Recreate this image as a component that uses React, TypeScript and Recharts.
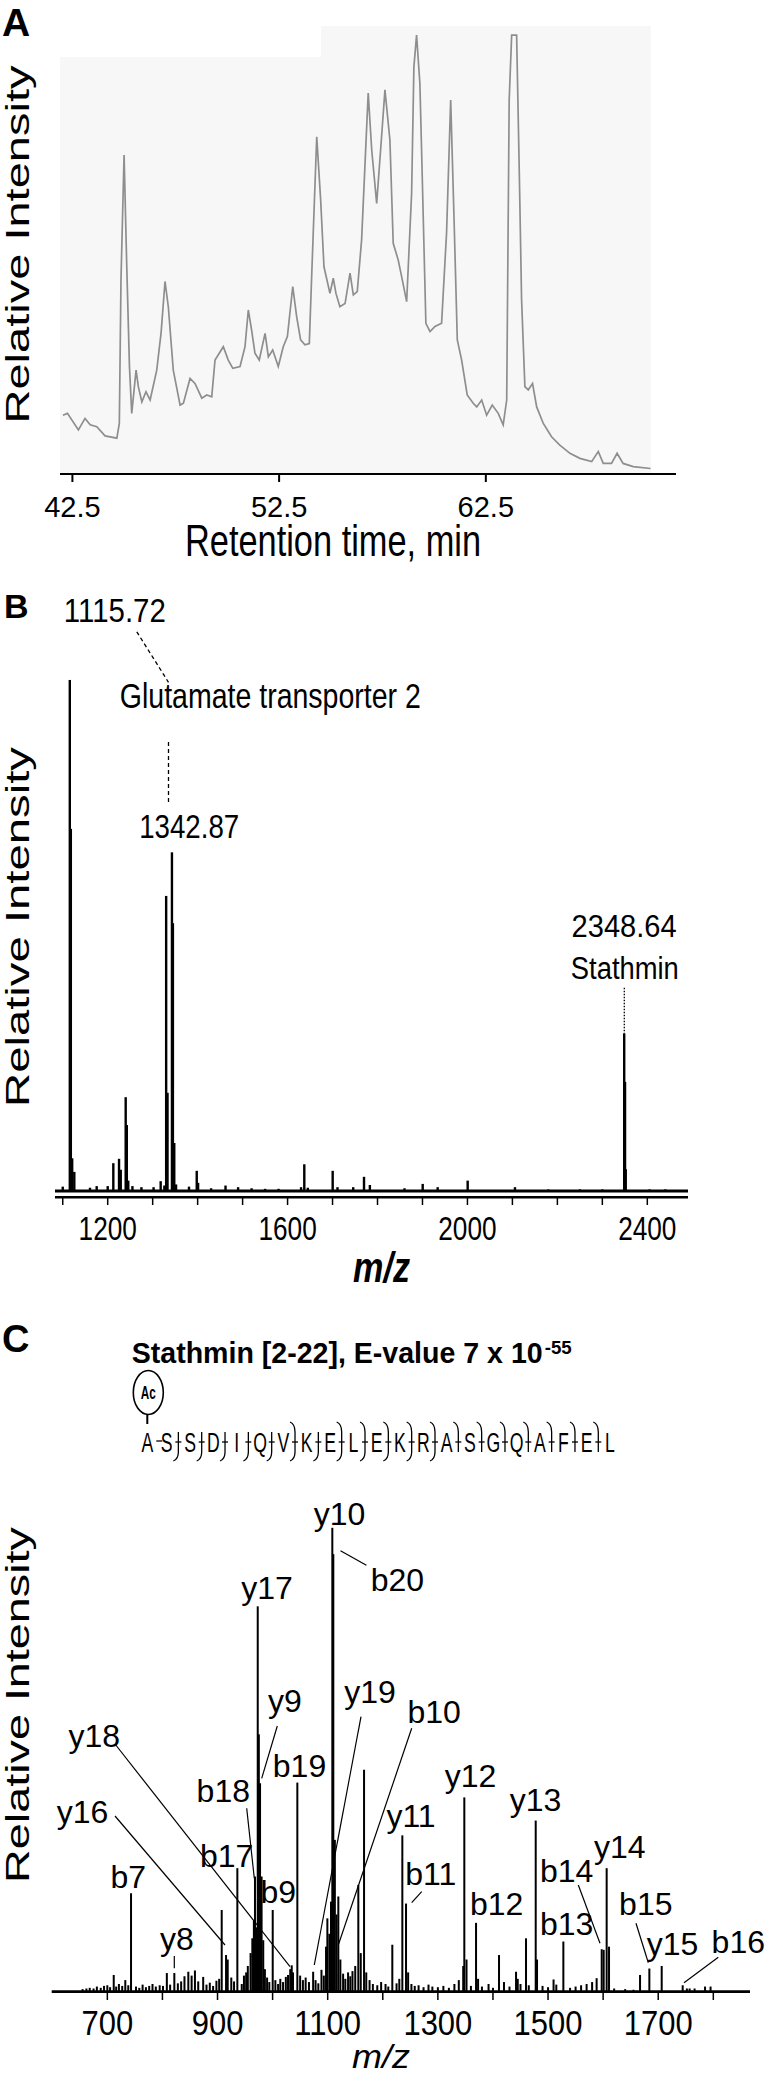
import React from "react";
import {
  LineChart, Line, ComposedChart, Bar, XAxis, YAxis, ReferenceArea, ReferenceLine,
} from "recharts";

const FONT = '"Liberation Sans", Arial, Helvetica, sans-serif';

// A: base peak chromatogram (retention time, min / relative intensity)
const rtMin = [
  42.04, 42.26, 42.79, 43.11, 43.36, 43.68, 44.08, 44.65, 44.77, 44.85, 45.0, 45.13, 45.26, 45.37,
  45.58, 45.69, 45.86, 46.06, 46.26, 46.58, 46.79, 46.98, 47.14, 47.38, 47.71, 47.87, 48.19, 48.43,
  48.76, 49.0, 49.24, 49.4, 49.8, 50.04, 50.26, 50.61, 50.85, 51.01, 51.17, 51.33, 51.54, 51.82,
  51.98, 52.19, 52.46, 52.7, 52.9, 53.16, 53.35, 53.54, 53.75, 53.96, 54.08, 54.32, 54.51, 54.67,
  54.96, 55.12, 55.25, 55.44, 55.69, 55.93, 56.09, 56.28, 56.49, 56.65, 56.81, 56.98, 57.22, 57.41,
  57.62, 57.86, 58.02, 58.26, 58.43, 58.67, 58.91, 59.02, 59.15, 59.31, 59.4, 59.6, 59.8, 60.04,
  60.36, 60.6, 60.8, 60.96, 61.12, 61.33, 61.6, 61.89, 62.06, 62.3, 62.54, 62.81, 63.1, 63.34,
  63.51, 63.63, 63.75, 63.99, 64.12, 64.23, 64.39, 64.55, 64.76, 64.96, 65.28, 65.68, 66.08, 66.57,
  67.05, 67.62, 67.94, 68.18, 68.58, 68.85, 69.14, 69.63, 70.47,
];
const rtIntensity = [
  12.8, 13.2, 9.6, 12.1, 10.7, 10.3, 8.3, 7.8, 11.0, 42.2, 69.4, 45.1, 23.4, 13.2,
  22.6, 19.0, 15.7, 17.9, 16.1, 22.6, 30.7, 41.9, 36.4, 22.6, 15.0, 15.4, 20.8, 19.7,
  16.5, 17.2, 16.8, 24.8, 27.7, 24.8, 23.0, 23.4, 27.7, 35.7, 31.3, 26.3, 24.8, 30.6,
  25.5, 27.0, 23.4, 27.7, 29.9, 40.8, 34.2, 29.2, 28.1, 28.4, 43.7, 73.4, 59.6, 45.1,
  39.3, 42.6, 39.3, 36.4, 37.1, 43.7, 39.0, 39.7, 50.9, 66.9, 82.9, 70.5, 58.9, 70.5,
  83.6, 72.7, 50.2, 46.6, 42.9, 37.5, 61.1, 88.6, 95.5, 85.0, 69.1, 32.8, 31.0, 32.1,
  32.8, 52.4, 81.4, 56.0, 29.2, 24.8, 17.2, 15.4, 14.6, 16.1, 12.8, 15.0, 13.2, 10.7,
  16.1, 81.4, 95.5, 95.5, 65.4, 37.9, 19.0, 18.3, 19.7, 14.6, 11.0, 8.1, 6.3, 4.5,
  3.4, 2.7, 4.9, 2.3, 2.3, 4.5, 2.3, 1.6, 1.2,
];
const rtTicks = [42.5, 52.5, 62.5];

// B: MS spectrum
const msMz = [
  1100, 1115.72, 1118, 1121, 1125.7, 1160.6, 1175.5, 1200, 1212.5, 1225.2, 1229, 1240, 1242.5,
  1245.7, 1255, 1275, 1302, 1317.8, 1326, 1330, 1333, 1342.87, 1345, 1348, 1352, 1380.8, 1398,
  1401, 1430, 1462, 1490, 1520, 1550, 1580, 1630, 1637.2, 1645, 1700.3, 1711, 1746, 1770, 1783,
  1860, 1900.5, 1933.8, 2000.5, 2105.7, 2180, 2250, 2300, 2348.64, 2350.5, 2352, 2405, 2440,
];
const msInt = [
  0.8, 93.7, 66.4, 6.0, 3.5, 0.6, 0.9, 0.9, 5.1, 5.9, 3.9, 17.2, 12.1,
  1.9, 0.9, 0.7, 0.7, 1.8, 1.0, 54.1, 18, 62.1, 49.1, 8.8, 1.2, 0.8, 3.7,
  1.5, 0.5, 1.0, 0.7, 0.5, 0.4, 0.4, 0.7, 4.9, 0.6, 3.7, 0.7, 0.7, 2.6, 1.1,
  0.5, 1.3, 0.7, 1.9, 0.7, 0.3, 0.3, 0.3, 28.9, 20.0, 4.0, 0.3, 0.3,
];
const msTicks = [1100, 1200, 1300, 1400, 1500, 1600, 1700, 1800, 1900, 2000, 2100, 2200, 2300, 2400];
const msTickLabels = [1200, 1600, 2000, 2400];

// C: MS/MS spectrum of Stathmin [2-22]
const msmsMz = [
  655, 662, 668, 675, 681, 688, 694, 700, 705, 711.6, 716, 721, 727, 732.6, 738, 743, 752, 758,
  764, 770, 776, 782, 788, 795, 801, 808, 814, 821.6, 828, 834, 840, 847, 853, 859, 865, 874, 880,
  886, 892, 898, 903, 907.6, 915.5, 918.5, 925, 930, 936, 944, 948, 952, 955, 960, 963.2, 966,
  968, 970.5, 973, 975, 977.2, 980, 983, 986, 990, 994, 1000.2, 1005, 1010, 1014, 1019, 1024,
  1028, 1032, 1034.7, 1037, 1044.9, 1050, 1055, 1060, 1066, 1073.6, 1078, 1083, 1088.7, 1093,
  1097, 1099.4, 1103, 1106, 1108.4, 1110.2, 1113, 1116, 1119.3, 1123, 1128, 1132, 1137, 1141,
  1145, 1150, 1155.6, 1160, 1166, 1170, 1176, 1182, 1190, 1197, 1205, 1210, 1217.3, 1225, 1230,
  1235.5, 1242.2, 1246, 1252, 1258, 1265, 1274, 1283, 1290, 1300, 1310, 1320, 1330, 1338, 1346,
  1348, 1352, 1360, 1369.3, 1373, 1380, 1392, 1400, 1411, 1420, 1430, 1441.9, 1445, 1450, 1460,
  1465, 1477.6, 1480, 1490, 1500, 1510, 1515, 1527.8, 1540, 1550, 1560, 1570, 1580, 1588.2,
  1597.4, 1601, 1606.4, 1610.7, 1620, 1640, 1655, 1667, 1683.9, 1706.3, 1744.4, 1752, 1757,
  1766, 1785, 1795,
];
const msmsInt = [
  0.4, 0.5, 0.6, 0.5, 0.8, 0.6, 0.9, 1.0, 0.7, 2.6, 0.8, 1.2, 0.9, 1.8, 1.0, 15.3, 0.8, 0.6,
  1.1, 0.7, 0.9, 1.2, 0.8, 1.0, 0.9, 2.9, 1.1, 2.9, 1.3, 1.6, 2.4, 3.1, 2.5, 3.3, 1.6, 2.3, 1.1,
  1.4, 0.9, 1.7, 2.0, 12.7, 5.7, 5.0, 2.2, 1.6, 19.2, 1.2, 2.5, 3.0, 4.0, 6.0, 8.3, 11.0,
  17.9, 10.0, 59.9, 40.0, 32.4, 17.9, 8.0, 3.5, 2.2, 1.5, 12.7, 1.8, 1.2, 2.0, 1.5, 2.3,
  2.6, 3.5, 4.1, 3.0, 32.5, 2.5, 1.8, 2.2, 1.5, 3.1, 1.8, 1.3, 3.4, 2.5,
  7.0, 11.4, 9.0, 14.0, 72.1, 68.0, 23.6, 12.0, 14.8, 5.0, 2.8, 2.0, 3.0, 2.4,
  3.2, 4.0, 16.6, 6.0, 34.5, 3.0, 1.8, 1.2, 1.0, 1.5, 1.2, 0.8, 7.3, 1.3, 2.0,
  24.3, 13.7, 3.0, 1.2, 0.9, 1.0, 0.7, 1.1, 0.8, 0.7, 0.9, 0.6, 1.2, 1.8, 4.0,
  30.2, 5.0, 0.9, 10.7, 2.0, 0.8, 1.2, 0.6, 5.7, 1.5, 0.8, 3.1, 2.0, 1.2, 8.3,
  1.0, 26.6, 5.0, 0.9, 0.7, 1.9, 1.1, 7.8, 0.6, 0.8, 1.0, 1.2, 1.5, 2.1,
  6.6, 6.5, 19.2, 7.0, 0.5, 0.4, 0.3, 2.6, 3.6, 4.0, 1.0, 0.5, 0.5,
  0.5, 0.8, 0.8,
];
const msmsTicks = [700, 800, 900, 1000, 1100, 1200, 1300, 1400, 1500, 1600, 1700, 1800];
const msmsTickLabels = [700, 900, 1100, 1300, 1500, 1700];

const peptide = ["A", "S", "S", "D", "I", "Q", "V", "K", "E", "L", "E", "K", "R", "A", "S", "G", "Q", "A", "F", "E", "L"];
const bIons = [7, 9, 10, 11, 12, 13, 14, 15, 16, 17, 18, 19, 20];
const yIons = [8, 9, 10, 11, 12, 13, 14, 15, 16, 17, 18, 19];

// annotation layout (page pixels)
const ionLabels: [string, number, number][] = [
  ["y10", 339.5, 1524.8], ["b20", 397.4, 1590.7], ["y17", 267, 1598.5], ["y9", 285, 1711.7],
  ["y19", 370, 1703.3], ["b10", 434.2, 1723.3], ["y18", 94.2, 1746.7], ["b19", 299.5, 1776.7],
  ["b18", 223.3, 1801.7], ["y16", 82.5, 1823.3], ["y12", 470.5, 1786.7], ["y11", 411, 1826.7],
  ["y13", 535.5, 1810.7], ["b17", 226.7, 1866.7], ["y14", 619.7, 1858.3], ["b14", 566.7, 1881.7],
  ["b7", 128.3, 1888.3], ["b11", 430.8, 1885], ["b9", 278.3, 1903.3], ["b12", 496.7, 1915],
  ["b15", 645.8, 1915], ["b13", 566.7, 1935], ["y8", 177, 1950], ["y15", 672.5, 1955],
  ["b16", 738.3, 1953.3],
];
const leaders: [number, number, number, number][] = [
  [340.5, 1550.8, 366.4, 1565.3], [115, 1744, 290, 1966.7], [115, 1816, 225, 1945],
  [277.3, 1726, 261.7, 1778.3], [246.7, 1808.3, 254.3, 1878.3], [174.3, 1956, 174.3, 1968.3],
  [361, 1716.7, 314.3, 1965], [411.7, 1728.3, 338.3, 1945], [421.7, 1891.7, 411.7, 1902.7],
  [578.3, 1885, 600, 1943.3], [636, 1923.3, 648.3, 1962.7], [718.3, 1957.3, 684, 1982.7],
];

// fixed-width stick centred on the bar's slot (Recharts shrinks bars on a dense numeric axis)
const stick = (w: number) => (props: any) => {
  const { x, y, width, height, fill } = props;
  if (!height) return <g />;
  return <rect x={x + width / 2 - w / 2} y={y} width={w} height={height} fill={fill} />;
};

function AxisTick(props: any) {
  const { x, y, payload, show, size, sy } = props;
  if (show && !show.includes(payload.value)) return <g />;
  const cap = size * 0.716 * sy;
  return (
    <text transform={`translate(${x},${y + cap}) scale(1,${sy})`} textAnchor="middle"
      fontSize={size} fontFamily={FONT} fill="#000">
      {payload.value}
    </text>
  );
}

function T({ x, y, size, children, len, sy = 1, anchor = "middle", weight = "normal", italic = false }: any) {
  return (
    <text transform={`translate(${x},${y}) scale(1,${sy})`} textAnchor={anchor} fontSize={size}
      fontFamily={FONT} fontWeight={weight} fontStyle={italic ? "italic" : "normal"} fill="#000"
      textLength={len} lengthAdjust={len ? "spacingAndGlyphs" : undefined}>
      {children}
    </text>
  );
}

function YLabel({ x, y, len }: any) {
  return (
    <text transform={`translate(${x},${y}) rotate(-90)`} textAnchor="middle" fontSize={33}
      fontFamily={FONT} fill="#000" textLength={len} lengthAdjust="spacingAndGlyphs">
      Relative Intensity
    </text>
  );
}

export default function App() {
  const aData = rtMin.map((t, i) => ({ t, v: rtIntensity[i] }));
  const bData = msMz.map((mz, i) => ({ mz, v: msInt[i] }));
  const cData = msmsMz.map((mz, i) => ({ mz, v: msmsInt[i] }));
  const step = 23.33;
  const seqX = (i: number) => (i === 0 ? 147.3 : 166.7 + step * (i - 1));
  const seqBase = 1451.7;

  return (
    <div style={{ position: "absolute", left: 0, top: 0, width: 766, height: 2074, background: "#fff" }}>
      {/* A */}
      <div style={{ position: "absolute", left: 0, top: 0 }}>
        <LineChart width={766} height={545} data={aData} margin={{ top: 14.5, right: 90, bottom: 31, left: 60 }}>
          <XAxis type="number" dataKey="t" domain={[41.9, 71.7]} ticks={rtTicks} interval={0} height={40}
            tickSize={8} tickMargin={14} allowDataOverflow
            axisLine={{ stroke: "#000", strokeWidth: 2.2 }} tickLine={{ stroke: "#000", strokeWidth: 2 }}
            tick={<AxisTick size={29} sy={1} />} />
          <YAxis type="number" domain={[0, 100]} width={0} tick={false} tickLine={false}
            axisLine={{ stroke: "#000", strokeWidth: 2 }} />
          <ReferenceArea x1={41.9} x2={54.53} y1={0} y2={90.75} fill="#f7f7f7" fillOpacity={1} stroke="none" />
          <ReferenceArea x1={54.53} x2={70.48} y1={0} y2={97.5} fill="#f7f7f7" fillOpacity={1} stroke="none" />
          <Line type="linear" dataKey="v" stroke="#8e8e8e" strokeWidth={1.7} dot={false} isAnimationActive={false} />
        </LineChart>
      </div>

      {/* B */}
      <div style={{ position: "absolute", left: 0, top: 600 }}>
        <ComposedChart width={766} height={660} data={bData} margin={{ top: 45.6, right: 78, bottom: 12.7, left: 55 }}>
          <XAxis type="number" dataKey="mz" domain={[1082.8, 2490.5]} ticks={msTicks} interval={0} height={50}
            tickSize={7.7} tickMargin={11.7} allowDataOverflow
            axisLine={{ stroke: "#000", strokeWidth: 2.5 }} tickLine={{ stroke: "#000", strokeWidth: 1.5 }}
            tick={<AxisTick size={26.2} sy={1.25} show={msTickLabels} />} />
          <YAxis type="number" domain={[-1.155, 100]} width={0} tick={false} tickLine={false}
            axisLine={{ stroke: "#000", strokeWidth: 2 }} allowDataOverflow />
          <ReferenceLine y={0} stroke="#000" strokeWidth={3.2} />
          <Bar dataKey="v" fill="#000" shape={stick(2.4)} isAnimationActive={false} />
        </ComposedChart>
      </div>

      {/* C */}
      <div style={{ position: "absolute", left: 0, top: 1290 }}>
        <ComposedChart width={766} height={784} data={cData} margin={{ top: 58.3, right: 16, bottom: 22.3, left: 51.7 }}>
          <XAxis type="number" dataKey="mz" domain={[599, 1866.6]} ticks={msmsTicks} interval={0} height={60}
            tickSize={8.3} tickMargin={9} allowDataOverflow
            axisLine={{ stroke: "#000", strokeWidth: 2.7 }} tickLine={{ stroke: "#000", strokeWidth: 1.5 }}
            tick={<AxisTick size={31} sy={1.15} show={msmsTickLabels} />} />
          <YAxis type="number" domain={[0, 100]} width={0} tick={false} tickLine={false}
            axisLine={{ stroke: "#000", strokeWidth: 2 }} />
          <Bar dataKey="v" fill="#000" shape={stick(2)} isAnimationActive={false} />
        </ComposedChart>
      </div>

      {/* annotations */}
      <svg width={766} height={2074} style={{ position: "absolute", left: 0, top: 0, pointerEvents: "none" }}>
        {/* A */}
        <T x={2} y={36} size={39} weight="bold" anchor="start">A</T>
        <YLabel x={28.5} y={244.5} len={358} />
        <T x={333} y={556.4} size={34} sy={1.29} len={296}>Retention time, min</T>

        {/* B */}
        <T x={4} y={618} size={34} weight="bold" anchor="start">B</T>
        <YLabel x={28.5} y={927} len={360} />
        <T x={114.8} y={621.7} size={28.4} sy={1.2} len={102}>1115.72</T>
        <line x1={136.8} y1={631.8} x2={168.5} y2={682.3} stroke="#000" strokeWidth={1.3} strokeDasharray="4 3" />
        <T x={270.3} y={707.6} size={28.5} sy={1.26} len={301}>Glutamate transporter 2</T>
        <line x1={168.5} y1={742} x2={168.5} y2={804} stroke="#000" strokeWidth={1.3} strokeDasharray="4 3" />
        <T x={189.2} y={837.5} size={27.7} sy={1.22} len={100}>1342.87</T>
        <T x={624.1} y={937.1} size={29} sy={1.1} len={105}>2348.64</T>
        <T x={624.8} y={978.5} size={27.4} sy={1.17} len={108}>Stathmin</T>
        <line x1={624.3} y1={987.7} x2={624.3} y2={1033.6} stroke="#000" strokeWidth={1.3} strokeDasharray="1.5 1.5" />
        <T x={381.5} y={1282} size={33} sy={1.3} len={57} weight="bold" italic>m/z</T>

        {/* C */}
        <T x={2} y={1352} size={38} weight="bold" anchor="start">C</T>
        <YLabel x={28.5} y={1705} len={356} />
        <T x={131.7} y={1363.3} size={30} weight="bold" anchor="start" len={411}>Stathmin [2-22], E-value 7 x 10</T>
        <T x={544.7} y={1354} size={18} weight="bold" anchor="start" len={27}>-55</T>
        <ellipse cx={148.3} cy={1392.5} rx={15} ry={22} fill="#fff" stroke="#000" strokeWidth={1.6} />
        <T x={148.3} y={1398.5} size={18} weight="bold" len={15}>Ac</T>
        <line x1={147.3} y1={1414.5} x2={147.3} y2={1424} stroke="#000" strokeWidth={2} />
        {peptide.map((aa, i) => (
          <text key={"aa" + i} transform={`translate(${seqX(i)},${seqBase}) scale(0.63,1)`} textAnchor="middle"
            fontSize={28} fontFamily={FONT} fill="#000">{aa}</text>
        ))}
        {peptide.slice(0, -1).map((_, i) => {
          const k = i + 1;
          const x = k === 1 ? 159.3 : (seqX(i) + seqX(i + 1)) / 2;
          const hasB = bIons.includes(k);
          const hasY = yIons.includes(peptide.length - k);
          if (!hasB && !hasY) {
            return <line key={"sep" + k} x1={x - 3} y1={1441} x2={x + 3} y2={1441} stroke="#000" strokeWidth={1.3} />;
          }
          return (
            <g key={"sep" + k} stroke="#000" strokeWidth={1.3} fill="none">
              <line x1={x} y1={1432} x2={x} y2={1452} />
              <line x1={x - 3} y1={1442} x2={x + 3} y2={1442} />
              {hasY && <path d={`M${x},1452 Q${x},1459 ${x - 5},1461`} />}
              {hasB && <path d={`M${x},1432 Q${x},1424 ${x - 5},1422`} />}
            </g>
          );
        })}
        {leaders.map(([x1, y1, x2, y2], i) => (
          <line key={"ld" + i} x1={x1} y1={y1} x2={x2} y2={y2} stroke="#000" strokeWidth={1.2} />
        ))}
        {ionLabels.map(([s, x, y]) => (
          <T key={s} x={x} y={y} size={32}>{s}</T>
        ))}
        <T x={381} y={2068} size={34} italic len={58}>m/z</T>
      </svg>
    </div>
  );
}
